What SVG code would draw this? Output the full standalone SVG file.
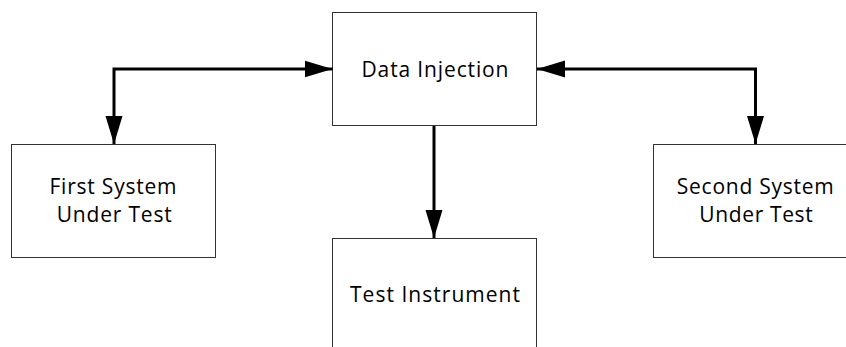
<svg xmlns="http://www.w3.org/2000/svg" width="846" height="347" viewBox="0 0 846 347">
  <defs>
    <marker id="arrow" markerUnits="userSpaceOnUse" markerWidth="28" markerHeight="18" refX="28" refY="8.5" orient="auto-start-reverse" viewBox="0 0 28 17">
      <path d="M0,0 L28,8.5 L0,17 Z" fill="#000"/>
    </marker>
    <style>
      .box { fill: #fff; stroke: #333; stroke-width: 1; }
      .lbl { font-family: "Open Sans", "Liberation Sans", sans-serif; font-size: 21px; fill: #000; text-anchor: middle; }
      .conn { fill: none; stroke: #000; stroke-width: 3; }
    </style>
  </defs>
  <rect width="846" height="347" fill="#fff"/>
  <g id="data-injection">
    <rect class="box" x="332.5" y="12.5" width="204" height="113"/>
    <text class="lbl" x="435" y="77.3" textLength="147">Data Injection</text>
  </g>
  <g id="first-system">
    <rect class="box" x="11.5" y="144.5" width="204" height="113"/>
    <text class="lbl" x="113" y="194.3" textLength="127">First System</text>
    <text class="lbl" x="114.2" y="221.7" textLength="115">Under Test</text>
  </g>
  <g id="second-system">
    <rect class="box" x="653.5" y="144.5" width="204" height="113"/>
    <text class="lbl" x="755.3" y="194.3" textLength="157">Second System</text>
    <text class="lbl" x="756" y="221.7" textLength="113.4">Under Test</text>
  </g>
  <g id="test-instrument">
    <rect class="box" x="332.5" y="238.5" width="204" height="113"/>
    <text class="lbl" x="435" y="301.7" textLength="170">Test Instrument</text>
  </g>
  <g id="connectors">
    <path class="conn" d="M332.5,69 H114 V144" marker-start="url(#arrow)" marker-end="url(#arrow)"/>
    <path class="conn" d="M537,69 H755.5 V144" marker-start="url(#arrow)" marker-end="url(#arrow)"/>
    <path class="conn" d="M434,126 V238" marker-end="url(#arrow)"/>
  </g>
</svg>
